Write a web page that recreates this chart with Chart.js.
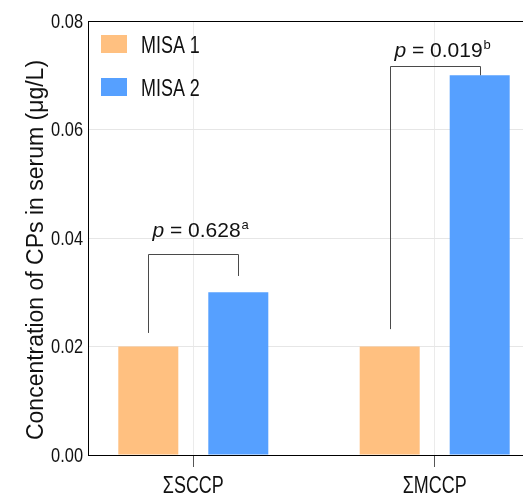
<!DOCTYPE html>
<html>
<head>
<meta charset="utf-8">
<script src="https://cdn.jsdelivr.net/npm/chart.js@4/dist/chart.umd.min.js"></script>
<style>
html,body{margin:0;padding:0;background:#fff;overflow:hidden;}
#wrap{width:523px;height:496px;}
</style>
</head>
<body>
<div id="wrap"><canvas id="c" width="523" height="496"></canvas></div>
<script>
const categories = ['ΣSCCP', 'ΣMCCP'];
const seriesNames = ['MISA 1', 'MISA 2'];
const misa1 = [0.02, 0.02];
const misa2 = [0.03, 0.07];
const yTicks = [0, 0.02, 0.04, 0.06, 0.08];
const pValues = ['0.628', '0.019'];
const pSuper = ['a', 'b'];
const bracketTop = [0.037, 0.0717];
const bracketLeftEnd = [0.0225, 0.0232];
const bracketRightEnd = [0.033, 0.07];
const pLabelY = [0.0402, 0.0733];
const yTitle = 'Concentration of CPs in serum (μg/L)';

const colors = ['#FFC080', '#56A0FF'];
const REG = "'Liberation Sans', Arial, sans-serif";
const TXT = '#111';

function narrow(ctx, text, x, y, size, align, baseline) {
  ctx.save();
  ctx.translate(x, y);
  ctx.scale(0.78, 1);
  ctx.font = size + 'px ' + REG;
  ctx.textAlign = align;
  ctx.textBaseline = baseline;
  ctx.fillStyle = TXT;
  ctx.fillText(text, 0, 0);
  ctx.restore();
}

const overlay = {
  id: 'overlay',
  afterDatasetsDraw(chart) {
    const ctx = chart.ctx;
    const ys = chart.scales.y;
    const xs = chart.scales.x;
    const area = chart.chartArea;
    const m0 = chart.getDatasetMeta(0).data;
    const m1 = chart.getDatasetMeta(1).data;
    ctx.save();
    // tick labels
    ys.ticks.forEach(t => {
      narrow(ctx, Number(t.value).toFixed(2), area.left - 5, ys.getPixelForValue(t.value) + 1, 21, 'right', 'middle');
    });
    xs.ticks.forEach(t => {
      const lab = categories[Math.round(t.value) - 1];
      if (lab) narrow(ctx, lab, xs.getPixelForValue(t.value), area.bottom + 38, 23, 'center', 'alphabetic');
    });
    // brackets
    ctx.strokeStyle = '#4a4a4a';
    ctx.lineWidth = 1;
    for (let i = 0; i < categories.length; i++) {
      const x1 = Math.round(m0[i].x) + 0.5;
      const x2 = Math.round(m1[i].x) + 0.5;
      const yt = Math.round(ys.getPixelForValue(bracketTop[i])) + 0.5;
      const yl = ys.getPixelForValue(bracketLeftEnd[i]);
      const yr = ys.getPixelForValue(bracketRightEnd[i]);
      ctx.beginPath();
      ctx.moveTo(x1, yl); ctx.lineTo(x1, yt); ctx.lineTo(x2, yt); ctx.lineTo(x2, yr);
      ctx.stroke();
      // label
      const cx = (x1 + x2) / 2;
      const by = ys.getPixelForValue(pLabelY[i]);
      ctx.fillStyle = TXT;
      ctx.textBaseline = 'alphabetic';
      ctx.font = 'italic 21px ' + REG;
      const pW = ctx.measureText('p').width;
      ctx.font = '21px ' + REG;
      const rest = ' = ' + pValues[i];
      const rW = ctx.measureText(rest).width;
      const total = pW + rW;
      let x = cx - total / 2 + 3;
      ctx.textAlign = 'left';
      ctx.font = 'italic 21px ' + REG;
      ctx.fillText('p', x, by);
      ctx.font = '21px ' + REG;
      ctx.fillText(rest, x + pW, by);
      ctx.font = '13px ' + REG;
      ctx.fillText(pSuper[i], x + total + 1, by - 8);
    }
    // legend
    const lx = area.left + 13;
    const ly0 = area.top + 14;
    chart.data.datasets.forEach((ds, k) => {
      const y = ly0 + k * 43;
      ctx.fillStyle = ds.backgroundColor;
      ctx.fillRect(lx, y, 26, 18);
      narrow(ctx, ds.label, lx + 40, y + 18, 23, 'left', 'alphabetic');
    });
    // y title
    ctx.translate(43, 250);
    ctx.rotate(-Math.PI / 2);
    ctx.textAlign = 'center';
    ctx.textBaseline = 'alphabetic';
    ctx.font = '23px ' + REG;
    ctx.fillStyle = TXT;
    ctx.fillText(yTitle, 0, 0);
    ctx.restore();
  }
};

new Chart(document.getElementById('c'), {
  type: 'bar',
  data: {
    datasets: [
      { label: seriesNames[0], data: categories.map((c, i) => ({ x: i + 1, y: misa1[i] })), backgroundColor: colors[0] },
      { label: seriesNames[1], data: categories.map((c, i) => ({ x: i + 1, y: misa2[i] })), backgroundColor: colors[1] }
    ]
  },
  options: {
    responsive: false,
    animation: false,
    devicePixelRatio: 1,
    categoryPercentage: 0.7457,
    barPercentage: 0.6667,
    layout: { padding: { top: 21, right: 0, bottom: 0, left: 0 } },
    plugins: { legend: { display: false }, tooltip: { enabled: false }, title: { display: false } },
    scales: {
      x: {
        type: 'linear',
        offset: false,
        min: 0.5638,
        max: 2.3658,
        afterFit(s) { s.height = 41; },
        afterBuildTicks(s) { s.ticks = categories.map((c, i) => ({ value: i + 1 })); },
        grid: { offset: false, color: '#ebebeb', lineWidth: 1, drawTicks: true, tickLength: 12, tickColor: '#555', drawOnChartArea: true },
        border: { display: true, color: '#000', width: 1 },
        ticks: { display: false, includeBounds: false, stepSize: 1 }
      },
      y: {
        min: 0,
        max: 0.08,
        afterFit(s) { s.width = 88; },
        afterBuildTicks(s) { s.ticks = yTicks.map(v => ({ value: v })); },
        grid: {
          drawTicks: false,
          color: (c) => (c.tick && (Math.abs(c.tick.value - 0.08) < 1e-9 || Math.abs(c.tick.value) < 1e-9)) ? '#000' : '#e6e6e6',
          lineWidth: 1
        },
        border: { display: true, color: '#000', width: 1 },
        ticks: { display: false }
      }
    }
  },
  plugins: [overlay]
});
</script>
</body>
</html>
